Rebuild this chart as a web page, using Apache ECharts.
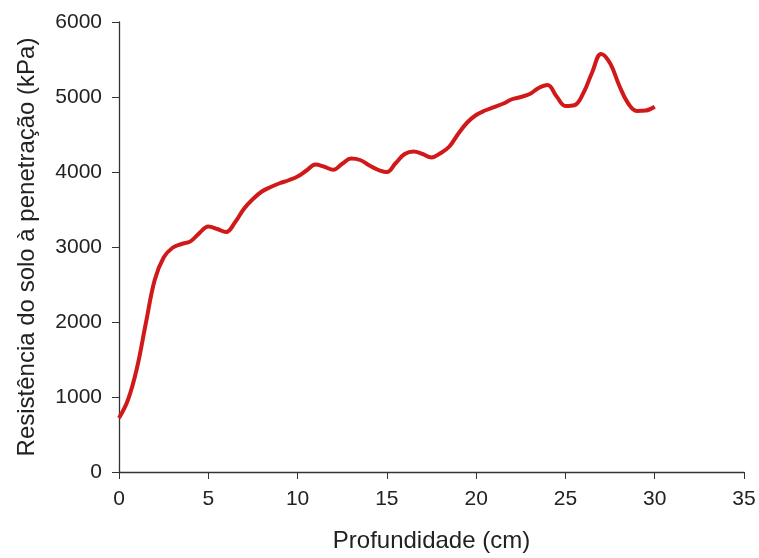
<!DOCTYPE html>
<html><head><meta charset="utf-8">
<script src="https://cdn.jsdelivr.net/npm/echarts@6/dist/echarts.min.js"></script>
<style>html,body{margin:0;padding:0;background:#fff}#c{width:759px;height:558px}</style>
</head><body><div id="c"></div>
<script>
const depth = [0,0.5,1,1.5,2,2.5,3,3.5,4,4.5,5,5.5,6,6.5,7,7.5,8,8.5,9,9.5,10,10.5,11,11.5,12,12.5,13,13.5,14,14.5,15,15.5,16,16.5,17,17.5,18,18.5,19,19.5,20,20.5,21,21.5,22,22.5,23,23.5,24,24.5,25,25.5,26,26.5,27,27.5,28,28.5,29,29.5,30];
const resistance = [720,960,1380,1980,2560,2860,2990,3040,3075,3185,3275,3240,3200,3330,3510,3640,3740,3800,3850,3890,3940,4020,4100,4070,4030,4110,4180,4160,4090,4030,4000,4120,4240,4275,4240,4195,4250,4340,4510,4660,4760,4820,4865,4910,4970,5000,5040,5120,5160,5010,4880,4890,5050,5330,5575,5450,5160,4920,4815,4820,4870];
const xTicks = {min:0,max:35,interval:5};
const yTicks = {min:0,max:6000,interval:1000};
const xName = 'Profundidade (cm)';
const yName = 'Resistência do solo à penetração (kPa)';

const chart = echarts.init(document.getElementById('c'));
const font = 'Liberation Sans, Arial, sans-serif';
chart.setOption({
  animation:false,
  grid:{left:119,right:15,top:22,bottom:84},
  xAxis:{type:'value',min:xTicks.min,max:xTicks.max,interval:xTicks.interval,
    name:xName,nameLocation:'middle',nameGap:57,
    nameTextStyle:{fontFamily:font,fontSize:24,color:'#222'},
    axisLine:{lineStyle:{color:'#333',width:1.3}},
    axisTick:{show:true,length:7,lineStyle:{color:'#333'}},
    axisLabel:{fontFamily:font,fontSize:21,color:'#222',margin:17,formatter:v=>String(v)},
    splitLine:{show:false}},
  yAxis:{type:'value',min:yTicks.min,max:yTicks.max,interval:yTicks.interval,
    name:yName,nameLocation:'middle',nameGap:80,
    nameTextStyle:{fontFamily:font,fontSize:24,color:'#222'},
    axisLine:{show:true,lineStyle:{color:'#333',width:1.3}},
    axisTick:{show:true,length:7,lineStyle:{color:'#333'}},
    axisLabel:{fontFamily:font,fontSize:21,color:'#222',margin:17,formatter:v=>String(v)},
    splitLine:{show:false}},
  series:[{type:'line',data:depth.map((d,i)=>[d,resistance[i]]),smooth:0.4,
    showSymbol:false,lineStyle:{color:'#d1191a',width:4}}]
});
</script></body></html>
